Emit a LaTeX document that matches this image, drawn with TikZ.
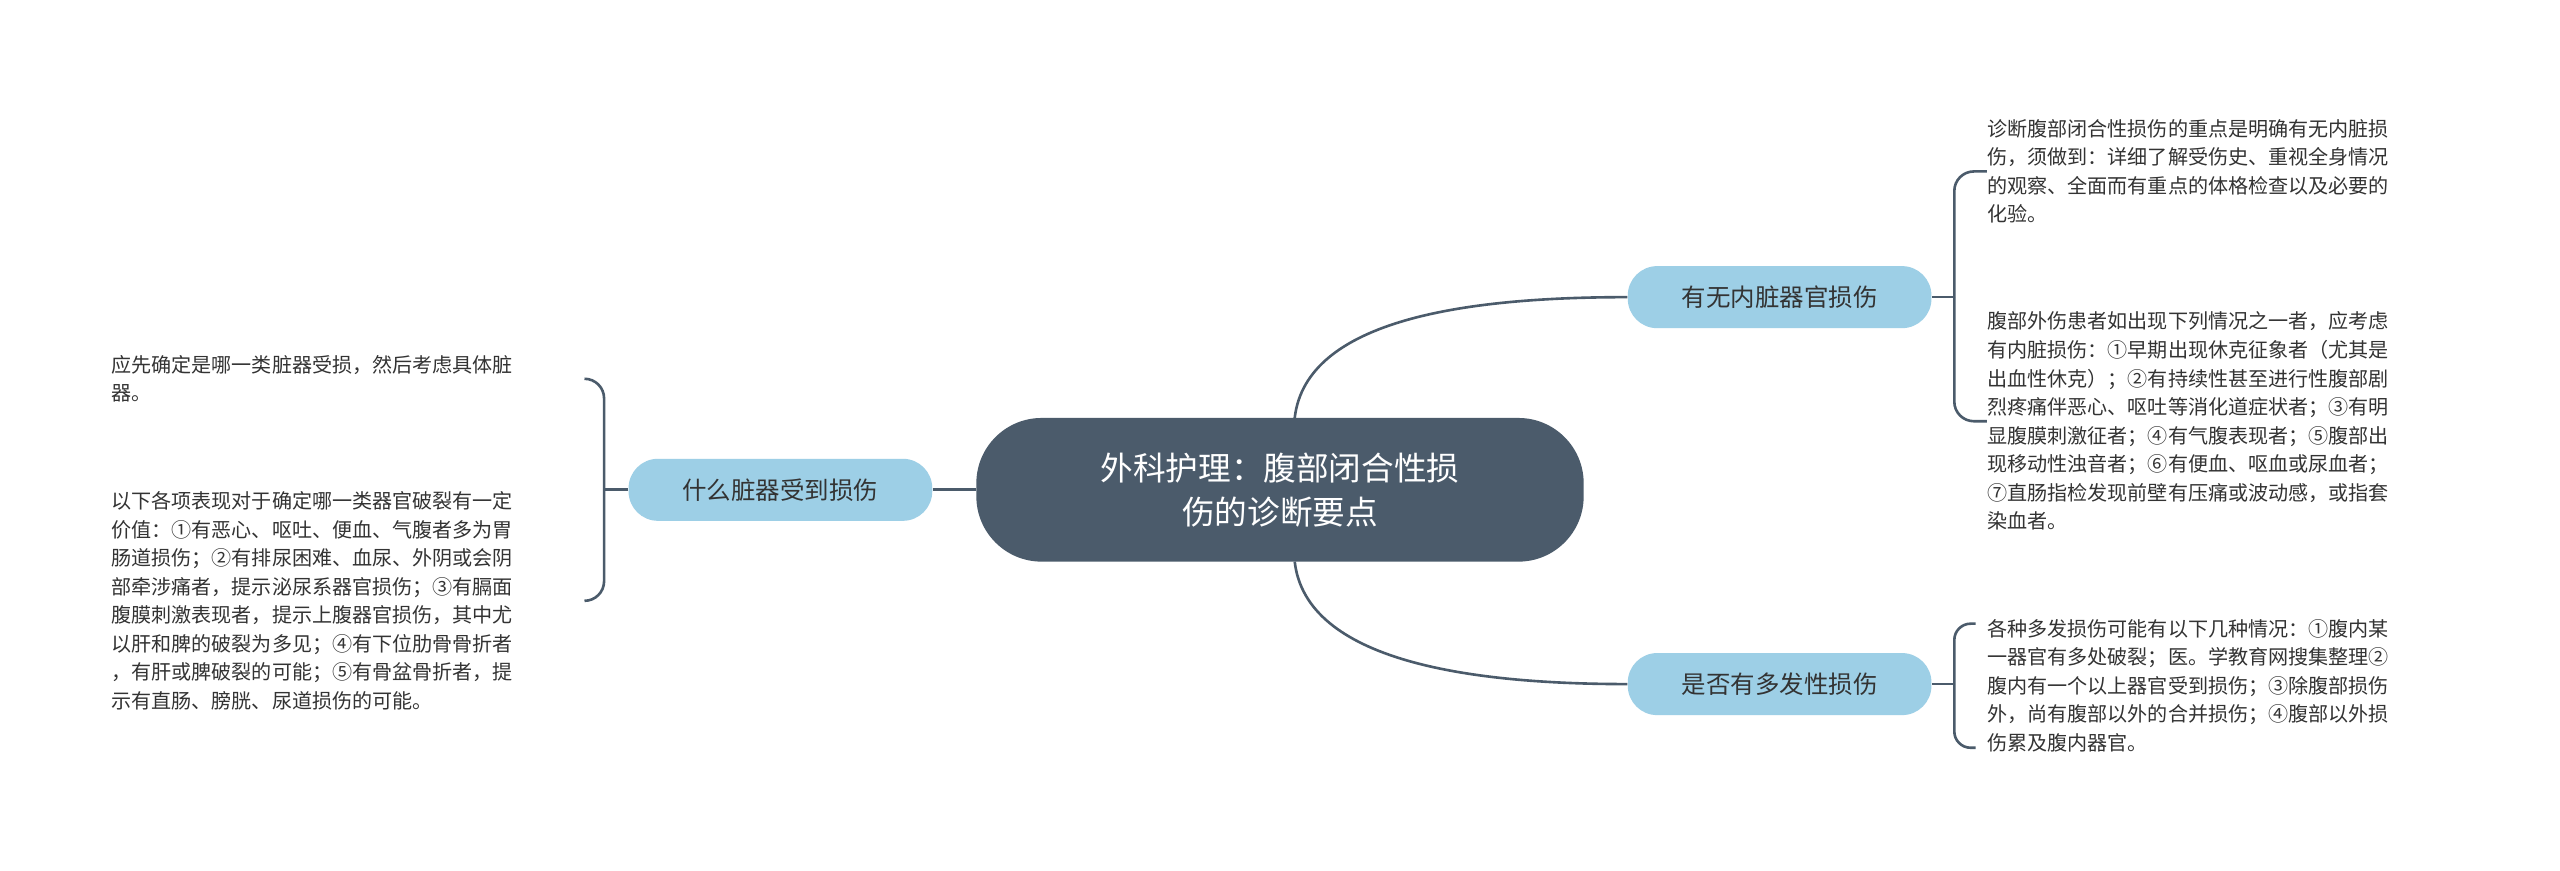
\documentclass[tikz,border=0pt]{standalone}
\usepackage{fontspec}
\setmainfont{Noto Sans CJK SC}
\begin{document}
\begin{tikzpicture}[x=1pt,y=-1pt,
  line/.style={draw=linec,line width=1.6pt},
  mid/.style={fill=midc,rounded corners=18pt,minimum width=186pt,minimum height=38pt,font=\fontsize{15}{18}\selectfont,text=textc,inner sep=2pt},
  leaf/.style={anchor=west,align=left,font=\fontsize{12.3}{17.5}\selectfont,text=textc,inner sep=0pt}]
\definecolor{linec}{HTML}{4B5B6B}
\definecolor{midc}{HTML}{9DCFE6}
\definecolor{textc}{HTML}{333333}
\useasboundingbox[fill=white] (0,0) rectangle (1568,533);
\node[fill=linec,rounded corners=40pt,minimum width=372pt,minimum height=88pt,text=white,align=center,font=\fontsize{20}{27}\selectfont] (c) at (784,300) {外科护理：腹部闭合性损\\伤的诊断要点};
\node[mid] (r1) at (1090,182) {有无内脏器官损伤};
\node[mid] (r2) at (1090,419) {是否有多发性损伤};
\node[mid] (l1) at (478,300) {什么脏器受到损伤};
\node[leaf] (a1) at (1217,105) {诊断腹部闭合性损伤的重点是明确有无内脏损\\伤，须做到：详细了解受伤史、重视全身情况\\的观察、全面而有重点的体格检查以及必要的\\化验。};
\node[leaf] (a2) at (1217,258) {腹部外伤患者如出现下列情况之一者，应考虑\\有内脏损伤：①早期出现休克征象者（尤其是\\出血性休克）；②有持续性甚至进行性腹部剧\\烈疼痛伴恶心、呕吐等消化道症状者；③有明\\显腹膜刺激征者；④有气腹表现者；⑤腹部出\\现移动性浊音者；⑥有便血、呕血或尿血者；\\⑦直肠指检发现前壁有压痛或波动感，或指套\\染血者。};
\node[leaf] (b1) at (1217,420) {各种多发损伤可能有以下几种情况：①腹内某\\一器官有多处破裂；医。学教育网搜集整理②\\腹内有一个以上器官受到损伤；③除腹部损伤\\外，尚有腹部以外的合并损伤；④腹部以外损\\伤累及腹内器官。};
\node[leaf] (c1) at (68,232) {应先确定是哪一类脏器受损，然后考虑具体脏\\器。};
\node[leaf] (c2) at (68,368) {以下各项表现对于确定哪一类器官破裂有一定\\价值：①有恶心、呕吐、便血、气腹者多为胃\\肠道损伤；②有排尿困难、血尿、外阴或会阴\\部牵涉痛者，提示泌尿系器官损伤；③有膈面\\腹膜刺激表现者，提示上腹器官损伤，其中尤\\以肝和脾的破裂为多见；④有下位肋骨骨折者\\，有肝或脾破裂的可能；⑤有骨盆骨折者，提\\示有直肠、膀胱、尿道损伤的可能。};
\draw[line] (793,256) .. controls (800,195) and (900,182) .. (r1.west);
\draw[line] (793,344) .. controls (800,405) and (900,419) .. (r2.west);
\draw[line] (c.west) -- (l1.east);
\coordinate (j1) at (1197,182);
\draw[line] (r1.east) -- (j1);
\draw[line,rounded corners=12pt] (j1) -- (1197,105) -- (a1.west);
\draw[line,rounded corners=12pt] (j1) -- (1197,258) -- (a2.west);
\coordinate (j2) at (1197,419);
\draw[line] (r2.east) -- (j2);
\draw[line,rounded corners=10pt] (1210,382) -- (1197,382) -- (1197,458) -- (1210,458);
\coordinate (j3) at (370,300);
\draw[line] (l1.west) -- (j3);
\draw[line,rounded corners=12pt] (j3) -- (370,232) -- (358,232);
\draw[line,rounded corners=12pt] (j3) -- (370,368) -- (358,368);
\end{tikzpicture}
\end{document}
